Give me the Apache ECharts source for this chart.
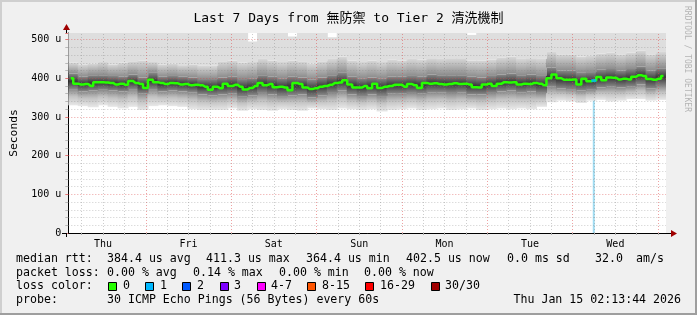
<!DOCTYPE html>
<html><head><meta charset="utf-8">
<script src="https://cdn.jsdelivr.net/npm/echarts/dist/echarts.min.js"></script>
<style>html,body{margin:0;padding:0;background:#f0f0f0}#c{width:697px;height:315px}</style>
</head><body><div id="c"></div>
<script>
// ---- text ----
const titleText = 'Last 7 Days from 無防禦 to Tier 2 清洗機制';
const yAxisTitle = 'Seconds';
const watermark = 'RRDTOOL / TOBI OETIKER';
// ---- x axis (hours since Thu Jan 8 00:00) ----
const dayLabels = ['Thu', 'Fri', 'Sat', 'Sun', 'Mon', 'Tue', 'Wed'];
const dayNoonHours = [12, 36, 60, 84, 108, 132, 156];
const gridHours = [6,12,18,24,30,36,42,48,54,60,66,72,78,84,90,96,102,108,114,120,126,132,138,144,150,156,162,168];
const startHour = 2.2289, endHour = 170.2289;
// ---- y axis (microseconds) ----
const yMax = 517;
const yGridValues = [20,40,60,80,100,120,140,160,180,200,220,240,260,280,300,320,340,360,380,400,420,440,460,480,500];
// ---- median rtt (us), 120 steps ----
const median = [
 400,386,384,385,380,390,390,389,388,384,
 386,383,393,388,385,375,396,390,388,385,
 388,387,384,385,382,383,382,378,370,378,
 374,386,380,383,378,371,375,380,388,382,
 385,377,378,376,369,388,385,376,372,374,
 378,380,383,388,389,395,384,376,376,380,
 374,386,375,378,380,383,383,378,385,382,
 375,388,386,387,385,384,385,387,385,386,
 384,377,376,384,386,380,386,390,389,390,
 384,386,385,388,386,382,400,410,400,396,
 396,397,384,399,392,394,403,395,402,401,
 397,399,397,404,408,406,398,396,399,406];
// ---- smoke bands (us), 60 columns ----
const smokeLow = [
 330,328,325,330,326,322,326,318,328,330,328,326,320,318,318,
 318,322,316,320,318,316,320,318,316,322,320,318,322,320,318,
 320,314,318,320,322,318,320,322,318,320,322,318,320,322,320,
 322,320,326,338,342,340,336,342,344,340,342,346,346,342,344];
const coreLow = [
 372,366,368,370,368,366,372,360,372,366,368,366,364,358,356,
 358,360,352,356,362,358,354,356,358,350,356,362,368,358,354,
 358,354,360,360,362,360,364,364,362,364,358,358,362,366,368,
 364,366,362,378,374,372,368,370,376,378,376,378,384,374,380];
const coreHigh = [
 412,404,408,408,406,404,410,402,414,404,406,404,402,398,398,
 402,404,398,400,408,404,400,404,402,396,402,408,414,404,400,
 402,400,404,404,406,404,410,408,408,408,404,402,406,410,412,
 408,410,406,428,420,420,414,416,422,424,420,424,430,420,426];
const midHigh = [
 440,436,438,442,436,440,444,446,442,436,438,434,436,432,432,
 444,446,440,442,450,446,442,446,444,438,444,450,456,446,442,
 446,442,448,446,450,448,452,450,452,452,446,446,448,454,456,
 450,452,450,468,462,462,456,458,464,466,462,466,472,462,468];
const smokeTop = [
 517,517,517,517,517,517,517,517,517,517,517,517,517,517,517,
 517,517,517,495,517,517,517,508,517,517,517,506,517,517,517,
 517,517,517,517,517,517,517,517,517,517,512,517,517,517,517,
 517,517,517,517,517,517,517,517,517,517,517,517,517,517,517];
// ---- loss events ----
const lossIndex = [105];
const lossColorIdx = [1];
// ---- legend ----
const lossLabels = ['0', '1', '2', '3', '4-7', '8-15', '16-29', '30/30'];
const lossColors = ['#26ff00', '#00b8ff', '#0059ff', '#7e00ff', '#ff00ff', '#ff5500', '#ff0000', '#a00000'];
const lossBg = ['#ffffff', '#a0dcf2'];
const statsMedian = ['384.4 us avg', '411.3 us max', '364.4 us min', '402.5 us now', '0.0 ms sd', '32.0', 'am/s'];
const statsLoss = ['0.00 % avg', '0.14 % max', '0.00 % min', '0.00 % now'];
const probeText = '30 ICMP Echo Pings (56 Bytes) every 60s';
const stampText = 'Thu Jan 15 02:13:44 2026';

const FONT = '"DejaVu Sans Mono", "Noto Sans CJK TC", monospace';
const chart = echarts.init(document.getElementById('c'));
const idx120 = median.map((_, i) => i);
const idx60 = smokeLow.map((_, i) => i);
const LG = echarts.graphic.LinearGradient;

function band(name, vals, color) {
  return { type: 'bar', name, xAxisIndex: 2, stack: 'smoke', data: vals, barWidth: 11, z: 2,
    itemStyle: { color }, silent: true, animation: false };
}

const lossBgData = median.map(() => null);
lossIndex.forEach((k, n) => { lossBgData[k] = { value: yMax, itemStyle: { color: lossBg[lossColorIdx[n]] } }; });
const lossDots = lossIndex.map((k, n) => ({ value: [k, median[k]], itemStyle: { color: lossColors[lossColorIdx[n]] } }));

const markData = [];
gridHours.forEach(h => markData.push({ xAxis: h, lineStyle: { color: h % 24 === 0 ? 'rgba(222,70,70,0.5)' : 'rgba(130,130,130,0.4)', type: [1, 2], width: 1 } }));
yGridValues.forEach(v => markData.push({ yAxis: v, lineStyle: { color: v % 100 === 0 ? 'rgba(222,70,70,0.5)' : 'rgba(130,130,130,0.4)', type: [1, 2], width: 1 } }));

const graphics = [];
// frame
graphics.push({ type: 'rect', shape: { x: 0, y: 0, width: 697, height: 2 }, style: { fill: '#cfcfcf' }, z: 100 });
graphics.push({ type: 'rect', shape: { x: 0, y: 0, width: 2, height: 315 }, style: { fill: '#cfcfcf' }, z: 100 });
graphics.push({ type: 'rect', shape: { x: 695, y: 0, width: 2, height: 315 }, style: { fill: '#9e9e9e' }, z: 100 });
graphics.push({ type: 'rect', shape: { x: 0, y: 313, width: 697, height: 2 }, style: { fill: '#9e9e9e' }, z: 100 });
// axis extensions and arrows
graphics.push({ type: 'line', shape: { x1: 666, y1: 233.5, x2: 671, y2: 233.5 }, style: { stroke: '#000', lineWidth: 1 }, z: 50 });
graphics.push({ type: 'line', shape: { x1: 62, y1: 233.5, x2: 66, y2: 233.5 }, style: { stroke: '#000', lineWidth: 1 }, z: 50 });
graphics.push({ type: 'line', shape: { x1: 66.5, y1: 33, x2: 66.5, y2: 29 }, style: { stroke: '#000', lineWidth: 1 }, z: 50 });
graphics.push({ type: 'line', shape: { x1: 66.5, y1: 233, x2: 66.5, y2: 237 }, style: { stroke: '#000', lineWidth: 1 }, z: 50 });
graphics.push({ type: 'polygon', shape: { points: [[671, 230], [677, 233.5], [671, 237]] }, style: { fill: '#a00000' }, z: 50 });
graphics.push({ type: 'polygon', shape: { points: [[63, 30], [66.5, 24], [70, 30]] }, style: { fill: '#a00000' }, z: 50 });
// watermark
graphics.push({ type: 'text', x: 687, y: 6, rotation: -Math.PI / 2, style: { text: watermark, font: '8px ' + FONT, fill: '#b4b4b4', align: 'left', verticalAlign: 'middle' }, z: 60 });
// legend lines
function txt(x, y, s, align) {
  graphics.push({ type: 'text', x, y, style: { text: s, font: '11.6px ' + FONT, fill: '#000', align: align || 'left', verticalAlign: 'middle' }, z: 60 });
}
const L1 = 259, L2 = 272.5, L3 = 286, L4 = 300;
txt(16, L1, 'median rtt:');
const m1x = [107, 206, 306, 406, 507, 595, 636];
statsMedian.forEach((s, i) => txt(m1x[i], L1, s));
txt(16, L2, 'packet loss:');
const l2x = [107, 193, 279, 364];
statsLoss.forEach((s, i) => txt(l2x[i], L2, s));
txt(16, L3, 'loss color:');
const boxX = [108, 145, 182, 220, 257, 307, 365, 431];
const labX = [123, 160, 197, 234, 271, 322, 380, 445];
lossLabels.forEach((s, i) => {
  graphics.push({ type: 'rect', shape: { x: boxX[i] + 0.5, y: 282.5, width: 8, height: 8 }, style: { fill: lossColors[i], stroke: '#000', lineWidth: 1 }, z: 60 });
  txt(labX[i], L3, s);
});
txt(16, L4, 'probe:');
txt(107, L4, probeText);
txt(681, L4, stampText, 'right');

chart.setOption({
  animation: false,
  backgroundColor: '#f0f0f0',
  title: { text: titleText, left: 'center', top: 7, textStyle: { fontFamily: FONT, fontSize: 13, fontWeight: 'normal', color: '#000' } },
  grid: { left: 66, top: 33, width: 600, height: 200, backgroundColor: '#ffffff', show: true, borderWidth: 0 },
  xAxis: [
    { type: 'value', min: startHour, max: endHour, position: 'bottom',
      axisLine: { show: true, onZero: false, lineStyle: { color: '#000', width: 1 } },
      axisTick: { show: true, customValues: gridHours, length: 2, lineStyle: { color: '#aaa' } },
      axisLabel: { customValues: dayNoonHours, formatter: v => dayLabels[dayNoonHours.indexOf(Math.round(v))], color: '#000', fontFamily: FONT, fontSize: 10, margin: 6 },
      splitLine: { show: false } },
    { type: 'category', data: idx120, show: false, boundaryGap: true },
    { type: 'category', data: idx60, show: false, boundaryGap: true }
  ],
  yAxis: { type: 'value', min: 0, max: yMax, interval: 100,
    name: yAxisTitle, nameLocation: 'middle', nameRotate: 90, nameGap: 49,
    nameTextStyle: { fontFamily: FONT, fontSize: 11.3, color: '#000' },
    axisLine: { show: true, lineStyle: { color: '#000', width: 1 } },
    axisTick: { show: true, length: 3, lineStyle: { color: 'rgba(222,70,70,0.7)' } },
    minorTick: { show: true, splitNumber: 5, length: 3, lineStyle: { color: 'rgba(130,130,130,0.5)' } },
    axisLabel: { formatter: v => v === 0 ? '0' : v + ' u', color: '#000', fontFamily: FONT, fontSize: 10, margin: 7, showMaxLabel: false },
    splitLine: { show: false }, minorSplitLine: { show: false } },
  series: [
    { type: 'bar', name: 'lossbg', xAxisIndex: 1, data: lossBgData, barWidth: 2, z: 1, silent: true },
    band('base', smokeLow, 'rgba(0,0,0,0)'),
    band('low', coreLow.map((v, i) => v - smokeLow[i]), new LG(0, 0, 0, 1, [{ offset: 0, color: '#8a8a8a' }, { offset: 0.45, color: '#c2c2c2' }, { offset: 1, color: '#e8e8e8' }])),
    band('core', coreHigh.map((v, i) => v - coreLow[i]), new LG(0, 0, 0, 1, [{ offset: 0, color: '#888888' }, { offset: 0.5, color: '#3a3a3a' }, { offset: 1, color: '#888888' }])),
    band('high', midHigh.map((v, i) => v - coreHigh[i]), new LG(0, 0, 0, 1, [{ offset: 0, color: '#d8d8d8' }, { offset: 1, color: '#8c8c8c' }])),
    band('top', smokeTop.map((v, i) => v - midHigh[i]), '#dedede'),
    { type: 'line', name: 'grid', xAxisIndex: 0, data: [], z: 5, silent: true,
      markLine: { silent: true, symbol: ['none', 'none'], label: { show: false }, animation: false, data: markData } },
    { type: 'line', name: 'median', xAxisIndex: 1, data: median, step: 'middle', showSymbol: false, z: 6,
      lineStyle: { color: '#26ff00', width: 2.5 }, silent: true },
    { type: 'scatter', name: 'loss', xAxisIndex: 1, data: lossDots, symbol: 'rect', symbolSize: [5, 3], z: 7, silent: true }
  ],
  graphic: graphics
});
</script></body></html>
